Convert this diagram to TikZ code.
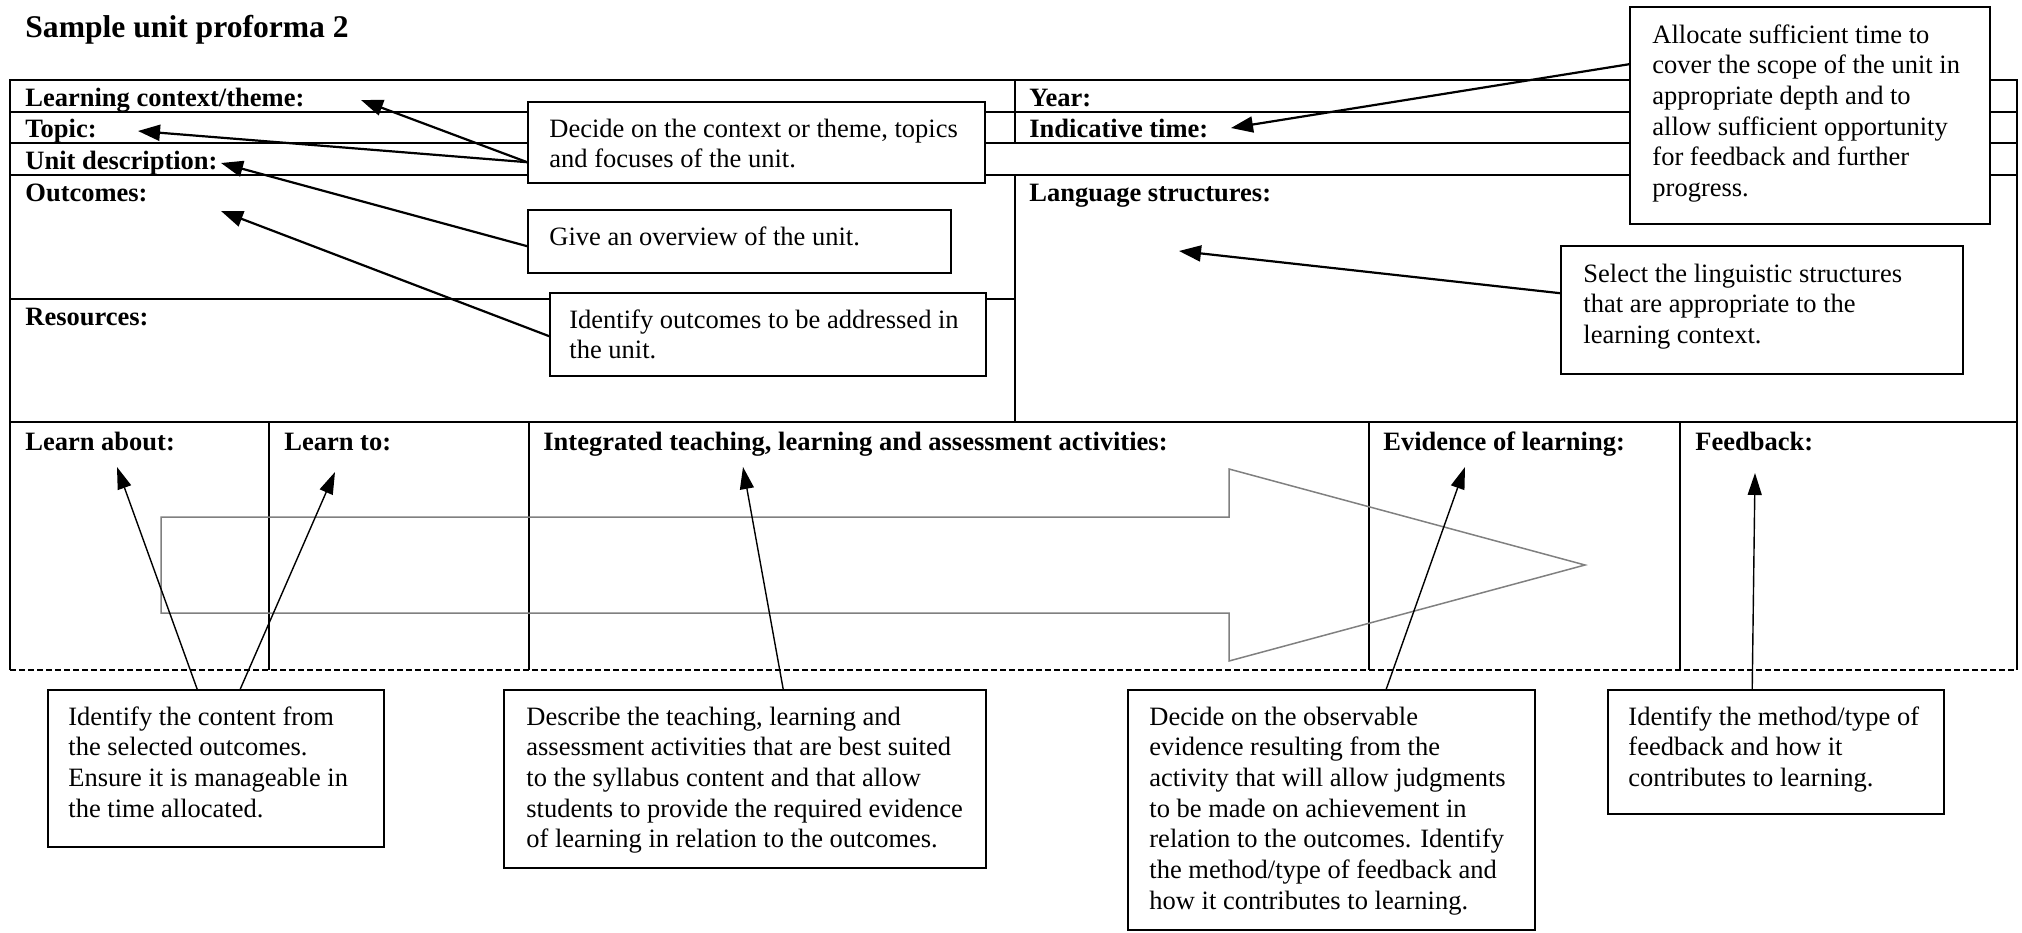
\documentclass[tikz,border=0pt]{standalone}
\usepackage{fontspec}
\setmainfont{Liberation Serif}
\usetikzlibrary{arrows.meta,calc,fit}
\newcommand\boxlines[1]{\begin{tabular}[t]{@{}l@{}}#1\end{tabular}}
\begin{document}
\begin{tikzpicture}[x=0.5pt,y=-0.5pt,
  rule/.style={line width=1pt,black},
  thinrule/.style={line width=0.75pt,black},
  cutline/.style={line width=1pt,dash pattern=on 3pt off 1.5pt},
  cbox/.style={draw=black,line width=0.8pt,fill=white,inner sep=0pt},
  body/.style={inner sep=0pt,anchor=base west,font=\fontsize{13.25pt}{15.35pt}\selectfont},
  head/.style={inner sep=0pt,anchor=base west,font=\fontsize{13.25pt}{15pt}\selectfont\bfseries},
  ptr/.style={line width=1.1pt,-{Triangle[length=11pt,width=8pt]}},
  ptrthin/.style={line width=0.7pt,-{Triangle[length=11pt,width=7pt]}},
  flow/.style={draw=black!50,line width=0.75pt}
]
\useasboundingbox (0,0) rectangle (2022,932);

% title
\node[inner sep=0pt,anchor=base west,font=\fontsize{15.8pt}{18pt}\selectfont\bfseries] (title) at (25,37) {Sample unit proforma 2};

% proforma grid
\draw[rule] (10,670) -- (10,80) -- (2017,80) -- (2017,670);
\draw[rule] (10,112) -- (2017,112);
\draw[rule] (10,143) -- (2017,143);
\draw[rule] (10,175) -- (2017,175);
\draw[rule] (10,299) -- (1015,299);
\draw[rule] (10,422) -- (2017,422);
\draw[rule] (1015,80) -- (1015,143);
\draw[rule] (1015,175) -- (1015,422);
\draw[thinrule] (269,422) -- (269,670);
\draw[thinrule] (529,422) -- (529,670);
\draw[thinrule] (1369,422) -- (1369,670);
\draw[thinrule] (1680,422) -- (1680,670);
\draw[cutline] (10,670) -- (2017,670);

% cell headings
\node[head] (lCtx)  at (25,106)  {Learning context/theme:};
\node[head] (lTop)  at (25,137)  {Topic:};
\node[head] (lUnit) at (25,169)  {Unit description:};
\node[head] (lOut)  at (25,201)  {Outcomes:};
\node[head] (lRes)  at (25,325)  {Resources:};
\node[head] (lYear) at (1029,106) {Year:};
\node[head] (lTime) at (1029,137) {Indicative time:};
\node[head] (lLang) at (1029,201) {Language structures:};
\node[head] (lAbout) at (25,450)  {Learn about:};
\node[head] (lTo)    at (284,450) {Learn to:};
\node[head] (lAct)   at (543,450) {Integrated teaching, learning and assessment activities:};
\node[head] (lEvid)  at (1383,450) {Evidence of learning:};
\node[head] (lFeed)  at (1695,450) {Feedback:};

% sequence arrow across the activity columns
\draw[flow] (161,517) -- (1229,517) -- (1229,469) -- (1585,565) -- (1229,661) -- (1229,613) -- (161,613) -- cycle;

% comment boxes
\node[cbox,fit={(528,102)(985,183)}] (bCtx) {};
\node[body] (tCtxT) at (549,137) {\boxlines{Decide on the context or theme, topics\\and focuses of the unit.}};

\node[cbox,fit={(528,210)(951,273)}] (bUnit) {};
\node[body] (tUnitT) at (549,245) {\boxlines{Give an overview of the unit.}};

\node[cbox,fit={(550,293)(986,376)}] (bOut) {};
\node[body] (tOutT) at (569,328) {\boxlines{Identify outcomes to be addressed in\\the unit.}};

\node[cbox,fit={(1630,7)(1990,224)}] (bTime) {};
\node[body] (tTimeT) at (1652,43) {\boxlines{Allocate sufficient time to\\cover the scope of the unit in\\appropriate depth and to\\allow sufficient opportunity\\for feedback and further\\progress.}};

\node[cbox,fit={(1561,246)(1963,374)}] (bLang) {};
\node[body] (tLangT) at (1583,282) {\boxlines{Select the linguistic structures\\that are appropriate to the\\learning context.}};

\node[cbox,fit={(48,690)(384,847)}] (bCont) {};
\node[body] (tContT) at (68,725) {\boxlines{Identify the content from\\the selected outcomes.\\Ensure it is manageable in\\the time allocated.}};

\node[cbox,fit={(504,690)(986,868)}] (bAct) {};
\node[body] (tActT) at (526,725) {\boxlines{Describe the teaching, learning and\\assessment activities that are best suited\\to the syllabus content and that allow\\students to provide the required evidence\\of learning in relation to the outcomes.}};

\node[cbox,fit={(1128,690)(1535,930)}] (bEvid) {};
\node[body] (tEvidT) at (1149,725) {\boxlines{Decide on the observable\\evidence resulting from the\\activity that will allow judgments\\to be made on achievement in\\relation to the outcomes. Identify\\the method/type of feedback and\\how it contributes to learning.}};

\node[cbox,fit={(1608,690)(1944,814)}] (bFeed) {};
\node[body] (tFeedT) at (1628,725) {\boxlines{Identify the method/type of\\feedback and how it\\contributes to learning.}};

% arrow targets beside the headings
\coordinate (pCtx)   at (361,100);
\coordinate (pTop)   at (138,131);
\coordinate (pUnit)  at (221,163);
\coordinate (pOut)   at (221,211);
\coordinate (pTime)  at (1231,128);
\coordinate (pLang)  at (1179,251);
\coordinate (pAbout) at (117,467);
\coordinate (pTo)    at (335,472);
\coordinate (pAct)   at (743,467);
\coordinate (pEvid)  at (1465,467);
\coordinate (pFeed)  at (1755,473);

% pointers from the comment boxes
\coordinate (sCtx)  at ($(bCtx.north west)+(0,61)$);
\coordinate (sUnit) at ($(bUnit.north west)+(0,37)$);
\coordinate (sOut)  at ($(bOut.north west)+(0,44)$);
\coordinate (sTime) at ($(bTime.north west)+(0,58)$);
\coordinate (sLang) at ($(bLang.north west)+(0,48)$);
\coordinate (sAbout) at ($(bCont.north west)+(150,0)$);
\coordinate (sTo)    at ($(bCont.north west)+(193,0)$);
\coordinate (sAct)   at ($(bAct.north west)+(280,0)$);
\coordinate (sEvid)  at ($(bEvid.north west)+(259,0)$);
\coordinate (sFeed)  at ($(bFeed.north west)+(145,0)$);

\draw[ptr] (sCtx) -- (pCtx);
\draw[ptr] (sCtx) -- (pTop);
\draw[ptr] (sUnit) -- (pUnit);
\draw[ptr] (sOut) -- (pOut);
\draw[ptr] (sTime) -- (pTime);
\draw[ptr] (sLang) -- (pLang);
\draw[ptrthin] (sAbout) -- (pAbout);
\draw[ptrthin] (sTo) -- (pTo);
\draw[ptrthin] (sAct) -- (pAct);
\draw[ptrthin] (sEvid) -- (pEvid);
\draw[ptrthin] (sFeed) -- (pFeed);
\end{tikzpicture}
\end{document}
